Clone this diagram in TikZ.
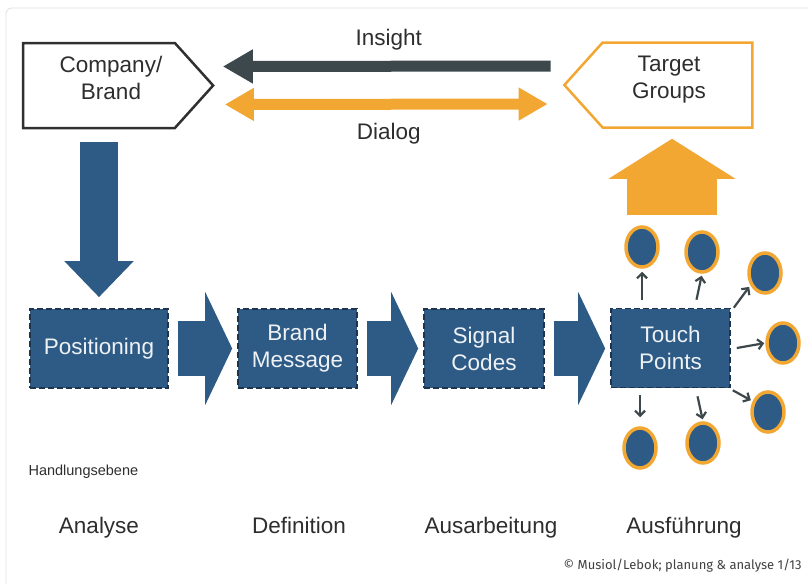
\documentclass[tikz,border=0pt]{standalone}
\usepackage{fontspec}
\setmainfont{Liberation Sans}
\newfontfamily\creditfont{Fira Sans}
\usepackage{tikz}
\usetikzlibrary{arrows.meta,positioning,calc,shapes.geometric,shapes.symbols}
\definecolor{BrandBlue}{HTML}{2E5B86}
\definecolor{BoxEdge}{HTML}{1E344D}
\definecolor{BrandOrange}{HTML}{F2A733}
\definecolor{InsightGrey}{HTML}{3D484C}
\definecolor{TextGrey}{HTML}{2E2E2E}
\definecolor{FrameGrey}{HTML}{303030}

\begin{document}
\begin{tikzpicture}[x=1pt,y=-1pt,>=Latex,
 every node/.style={text=TextGrey},
 party/.style={signal,line width=2.5pt,fill=white,align=center,
               minimum width=190pt,minimum height=85pt,signal pointer angle=96,
               text depth=16pt,font=\fontsize{22.5}{27}\selectfont},
 stepbox/.style={rectangle,fill=BrandBlue,draw=BoxEdge,dash pattern=on 6pt off 3pt,
                 line width=1.6pt,minimum height=79pt,align=center,
                 text=white!92!BrandBlue,font=\fontsize{22.5}{27}\selectfont},
 flowarrow/.style={draw=BrandBlue,line width=55pt,
                   -{Triangle[length=27pt,width=112pt]},shorten <=9pt,shorten >=5pt},
 bigdown/.style={draw=BrandBlue,line width=38pt,
                 -{Triangle[length=36pt,width=67pt]}},
 liftarrow/.style={draw=BrandOrange,line width=90pt,
                   -{Triangle[length=40pt,width=125pt]}},
 insight/.style={draw=InsightGrey,line width=11pt,
                 -{Triangle[length=30pt,width=32pt]}},
 dialog/.style={draw=BrandOrange,line width=11pt,
                {Triangle[length=29pt,width=31pt]}-{Triangle[length=29pt,width=31pt]}},
 touch/.style={ellipse,fill=BrandBlue,draw=BrandOrange,line width=3.5pt,
               minimum width=32pt,minimum height=40pt,inner sep=0pt},
 tparrow/.style={draw=InsightGrey,line width=2.2pt,-{Straight Barb[length=5pt,width=10pt]}},
 phase/.style={anchor=base,font=\fontsize{22.5}{27}\selectfont}]
\useasboundingbox (0,0) rectangle (808,584);
\draw[gray!25,line width=0.8pt,rounded corners=6pt] (6,584) -- (6,8) -- (808,8);
% actors
\node[party,signal to=east,draw=FrameGrey] (co) at (99,85.5)
  {\hspace*{24pt}Company/\\\hspace*{24pt}Brand};
\node[party,signal to=west,draw=BrandOrange,minimum width=188pt] (tg) at (677.5,85)
  {Target\hspace*{17pt}\\Groups\hspace*{17pt}};
\draw[insight,shorten <=12pt,shorten >=8pt] ([yshift=19pt]tg.west) -- ([yshift=19pt]co.east)
  node[midway,above=7pt,font=\fontsize{22.5}{27}\selectfont] {Insight};
\draw[dialog,shorten <=10pt,shorten >=15pt] ([yshift=-19pt]co.east) -- ([yshift=-19pt]tg.west)
  node[midway,below=10pt,font=\fontsize{22.5}{27}\selectfont] {Dialog};
% process
\node[stepbox,minimum width=138pt] (pos) at (99,348.5) {Positioning};
\node[stepbox,minimum width=119pt] (msg) at (297.5,348.5) {Brand\\Message};
\node[stepbox,minimum width=120pt] (sig) at (484,348.5) {Signal\\Codes};
\node[stepbox,minimum width=119pt] (tp) at (670.5,348) {Touch\\Points};
\draw[bigdown,shorten <=13pt,shorten >=11pt] (co.south -| pos.north) -- (pos.north);
\draw[flowarrow] (pos.east) -- (msg.west);
\draw[flowarrow] (msg.east) -- (sig.west);
\draw[flowarrow] (sig.east) -- (sig.east -| tp.west);
\coordinate (lift) at (672,215);
\draw[liftarrow,shorten >=10pt] (lift) -- (lift |- tg.south);
% touch points
\node[touch] (c1) at (642,247) {};
\node[touch] (c2) at (702,252) {};
\node[touch] (c3) at (765,273) {};
\node[touch] (c4) at (783,343) {};
\node[touch] (c5) at (768,412) {};
\node[touch] (c6) at (703,443) {};
\node[touch] (c7) at (640,448) {};
\draw[tparrow,shorten >=3pt] ([yshift=8pt]tp.north -| c1) -- (c1.south);
\draw[tparrow,shorten >=2pt] ([xshift=26pt,yshift=8pt]tp.north) -- (c2.south);
\draw[tparrow,shorten >=2pt] ([xshift=3pt]tp.north east) -- (c3.220);
\draw[tparrow,shorten >=1pt] ([xshift=6pt]tp.east) -- (c4.west);
\draw[tparrow,shorten >=2pt] ([xshift=2pt,yshift=-2pt]tp.south east) -- (c5.145);
\draw[tparrow,shorten >=2pt] ([xshift=27pt,yshift=-8pt]tp.south) -- (c6.north);
\draw[tparrow,shorten >=9pt] ([yshift=-7pt]tp.south -| c7) -- (c7.north);
% levels
\node[anchor=west,font=\fontsize{14.5}{17}\selectfont] (level) at (25,472) {Handlungsebene};
\node[phase] (ana) at (99,533) {Analyse};
\node[phase] (def) at (299,533) {Definition};
\node[phase] (aus) at (491,533) {Ausarbeitung};
\node[phase] (exe) at (684,533) {Ausführung};
\node[anchor=east,text=black!75,font=\creditfont\fontsize{13}{15}\selectfont] (credit) at (805,566)
  {© Musiol/Lebok; planung \& analyse 1/13};
\end{tikzpicture}
\end{document}
